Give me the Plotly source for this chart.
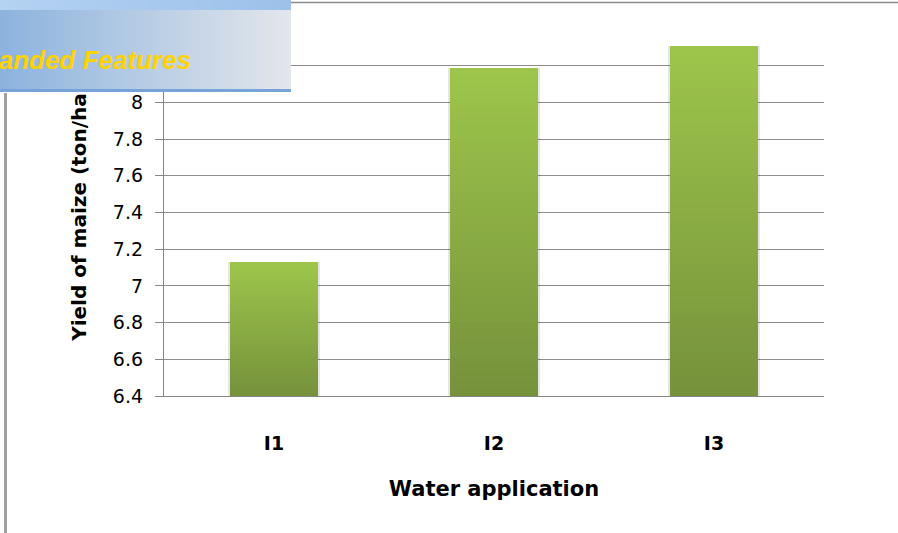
import plotly.graph_objects as go

# Yield of maize under three water application levels
categories = ["I1", "I2", "I3"]
yield_ton_ha = [7.13, 8.19, 8.31]
y_tick_values = [6.4, 6.6, 6.8, 7.0, 7.2, 7.4, 7.6, 7.8, 8.0, 8.2, 8.4]
y_tick_labels = ["6.4", "6.6", "6.8", "7", "7.2", "7.4", "7.6", "7.8", "8", "", ""]
axis_min, axis_max = 6.4, 8.4

W, H = 898, 533
ML, MR, MT, MB = 164, 74, 29, 137
PW, PH = W - ML - MR, H - MT - MB


def px_x(p):
    return (p - ML) / PW


def px_y(p):
    return (H - MB - p) / PH


def mix(c0, c1, t):
    a = [int(c0[i:i + 2], 16) for i in (1, 3, 5)]
    b = [int(c1[i:i + 2], 16) for i in (1, 3, 5)]
    return "#" + "".join(f"{round(x + (y - x) * t):02x}" for x, y in zip(a, b))


fig = go.Figure()

# soft shadow behind each bar
fig.add_trace(go.Bar(
    x=categories, y=[v - axis_min for v in yield_ton_ha], base=axis_min,
    width=0.415, marker=dict(color="rgba(0,0,0,0.10)", line=dict(width=0)),
    hoverinfo="skip", showlegend=False,
))

# bars drawn as stacked slices to give a vertical green gradient
N = 40
bottom_col, top_col = "#76923b", "#9dc54b"
for k in range(N):
    fig.add_trace(go.Bar(
        x=categories,
        y=[(v - axis_min) / N for v in yield_ton_ha],
        base=[axis_min + k * (v - axis_min) / N for v in yield_ton_ha],
        width=0.4,
        marker=dict(color=mix(bottom_col, top_col, k / (N - 1)), line=dict(width=0)),
        hoverinfo="skip", showlegend=False,
    ))

annotations = []

# gradient ribbon panel in the upper-left corner (annotation boxes sit above axis text)
BOX_W, STRIP = 291, 3
for sx in range(0, BOX_W, STRIP):
    t = sx / (BOX_W - STRIP)
    w = min(STRIP + 1, BOX_W - sx)
    annotations.append(dict(
        xref="paper", yref="paper", x=px_x(sx), y=px_y(9), xanchor="left", yanchor="top",
        text=" ", showarrow=False, width=w, height=81, borderpad=0, borderwidth=0,
        bgcolor=mix("#8cb3de", "#e3e6eb", t), font=dict(size=4),
    ))
    annotations.append(dict(
        xref="paper", yref="paper", x=px_x(sx), y=px_y(0), xanchor="left", yanchor="top",
        text=" ", showarrow=False, width=w, height=10, borderpad=0, borderwidth=0,
        bgcolor=mix("#b4d2f2", "#9cc1ea", t), font=dict(size=4),
    ))
annotations.append(dict(
    xref="paper", yref="paper", x=px_x(0), y=px_y(89), xanchor="left", yanchor="top",
    text=" ", showarrow=False, width=BOX_W, height=3, borderpad=0, borderwidth=0,
    bgcolor="#75a3da", font=dict(size=3),
))
annotations.append(dict(
    xref="paper", yref="paper", x=px_x(193), y=px_y(60), xanchor="right", yanchor="middle",
    text="Expanded Features", showarrow=False,
    font=dict(family="Liberation Sans", size=26, color="#ffd200", weight="bold", style="italic"),
))

shapes = [
    # chart border along the top
    dict(type="line", xref="paper", yref="paper", x0=px_x(BOX_W), x1=px_x(W),
         y0=px_y(2.5), y1=px_y(2.5), line=dict(color="#8a8a8a", width=1.6)),
    # frame edge on the left
    dict(type="line", xref="paper", yref="paper", x0=px_x(5.5), x1=px_x(5.5),
         y0=px_y(93), y1=px_y(H), line=dict(color="#a0a0a0", width=3)),
]

fig.update_layout(
    width=W, height=H,
    margin=dict(l=ML, r=MR, t=MT, b=MB, pad=0),
    paper_bgcolor="white", plot_bgcolor="white",
    barmode="overlay", bargap=0,
    showlegend=False,
    font=dict(family="DejaVu Sans", color="black"),
    annotations=annotations,
    shapes=shapes,
    xaxis=dict(
        type="category", categoryorder="array", categoryarray=categories,
        showline=True, linecolor="#868686", linewidth=1.3,
        showgrid=False, ticks="", ticklabelstandoff=30,
        tickfont=dict(size=19, weight="bold", color="black"),
        title=dict(text="Water application", standoff=28,
                   font=dict(size=21, weight="bold", color="black")),
    ),
    yaxis=dict(
        range=[axis_min, axis_max],
        tickmode="array", tickvals=y_tick_values, ticktext=y_tick_labels,
        showline=True, linecolor="#868686", linewidth=1.3,
        ticks="outside", ticklen=8, tickcolor="#868686", tickwidth=1.3,
        showgrid=True, gridcolor="#8c8c8c", gridwidth=1.3,
        zeroline=False, ticklabelstandoff=8,
        tickfont=dict(size=19, color="black"),
        title=dict(text="Yield of maize (ton/ha)", standoff=20,
                   font=dict(size=20, weight="bold", color="black")),
    ),
)

fig.write_html("out.html")
